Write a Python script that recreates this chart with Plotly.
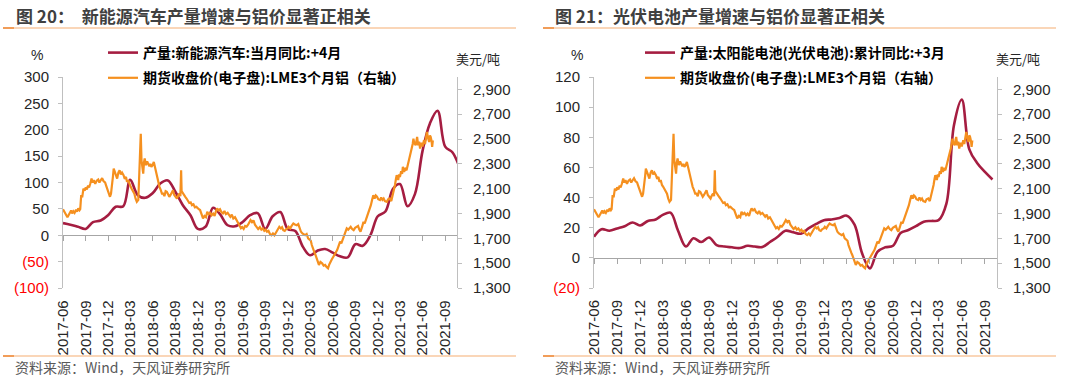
import plotly.graph_objects as go
import pandas as pd

W, H = 1080, 380

# ---------------- data ----------------
# monthly production growth, left panel (new-energy vehicles, YoY, shifted +4 months), from 2017-06
nev_start = "2017-06-01"
nev_yoy = [23, 20, 16, 12, 25, 28, 38,
           54, 55, 105, 76, 71, 80, 98, 104, 82, 57, 38, 12,
           16, 52, 40, 19, 17, 25, 38, 42, 12, 36, 44, 12,
           8, -22, -38, -29, -26, -33, -40, -42, -17, -20, 0, 36,
           45, 88, 97, 55, 78, 160, 212, 236, 168, 157, 125]

# monthly production growth, right panel (solar cells, cumulative YoY, shifted +3 months), from 2017-06
pv_start = "2017-06-01"
pv_yoy = [14, 19, 18, 19.5, 21, 23.5, 21.5,
          24.5, 25.5, 28.5, 30, 18, 7.5, 13, 10.5, 13.5, 8.5, 7.5, 7,
          6.5, 8, 7.5, 7.2, 10.5, 14, 18, 17, 16, 19.5, 22.5, 25,
          25.5, 26.5, 28, 22, 3, -7, 4, 7, 8, 16.5, 18.5, 21,
          24, 24.5, 25, 36, 88, 105, 72, 63, 57, 52]

# LME 3-month aluminium close (USD/t)
lme_dates = [
 "2017-06-01","2017-06-07","2017-06-13","2017-06-19","2017-06-23","2017-06-28",
 "2017-07-04","2017-07-08","2017-07-13","2017-07-18","2017-07-24","2017-07-28",
 "2017-08-02","2017-08-07","2017-08-10","2017-08-14","2017-08-18","2017-08-23","2017-08-28",
 "2017-09-01","2017-09-06","2017-09-11","2017-09-15","2017-09-20","2017-09-25","2017-09-29",
 "2017-10-04","2017-10-10","2017-10-16","2017-10-22","2017-10-27",
 "2017-11-02","2017-11-07","2017-11-13","2017-11-19","2017-11-24","2017-11-29",
 "2017-12-04","2017-12-09","2017-12-13","2017-12-17","2017-12-21","2017-12-24","2017-12-28",
 "2018-01-03","2018-01-07","2018-01-12","2018-01-17","2018-01-22","2018-01-27",
 "2018-02-02","2018-02-07","2018-02-12","2018-02-16","2018-02-21","2018-02-26",
 "2018-03-03","2018-03-08","2018-03-13","2018-03-18","2018-03-23","2018-03-28",
 "2018-04-03","2018-04-07","2018-04-11","2018-04-13","2018-04-16","2018-04-20","2018-04-23","2018-04-26","2018-04-29",
 "2018-05-04","2018-05-09","2018-05-13","2018-05-18","2018-05-22","2018-05-26","2018-05-31",
 "2018-06-05","2018-06-09","2018-06-14","2018-06-18","2018-06-23","2018-06-28",
 "2018-07-03","2018-07-08","2018-07-13","2018-07-18","2018-07-23","2018-07-28",
 "2018-08-02","2018-08-07","2018-08-12","2018-08-17","2018-08-22","2018-08-27",
 "2018-09-01","2018-09-07","2018-09-12","2018-09-17","2018-09-21","2018-09-24","2018-09-26","2018-10-01",
 "2018-10-06","2018-10-11","2018-10-16","2018-10-22","2018-10-27",
 "2018-11-02","2018-11-07","2018-11-13","2018-11-19","2018-11-25","2018-11-30",
 "2018-12-05","2018-12-10","2018-12-16","2018-12-22","2018-12-28",
 "2019-01-03","2019-01-08","2019-01-14","2019-01-20","2019-01-26",
 "2019-02-01","2019-02-07","2019-02-12","2019-02-17","2019-02-23",
 "2019-03-01","2019-03-07","2019-03-13","2019-03-19","2019-03-25",
 "2019-04-01","2019-04-07","2019-04-12","2019-04-18","2019-04-24",
 "2019-05-01","2019-05-07","2019-05-13","2019-05-19","2019-05-25","2019-05-30",
 "2019-06-05","2019-06-11","2019-06-17","2019-06-23","2019-06-28",
 "2019-07-03","2019-07-09","2019-07-15","2019-07-21","2019-07-28",
 "2019-08-03","2019-08-10","2019-08-16","2019-08-22","2019-08-28",
 "2019-09-03","2019-09-08","2019-09-14","2019-09-20","2019-09-26",
 "2019-10-02","2019-10-08","2019-10-16","2019-10-22","2019-10-28",
 "2019-11-03","2019-11-08","2019-11-13","2019-11-19","2019-11-25",
 "2019-12-01","2019-12-05","2019-12-11","2019-12-17","2019-12-24","2019-12-30",
 "2020-01-07","2020-01-13","2020-01-19","2020-01-24","2020-01-30",
 "2020-02-05","2020-02-10","2020-02-16","2020-02-22","2020-02-28",
 "2020-03-04","2020-03-08","2020-03-14","2020-03-19","2020-03-23","2020-03-28",
 "2020-04-02","2020-04-06","2020-04-12","2020-04-19","2020-04-25",
 "2020-05-01","2020-05-07","2020-05-13","2020-05-18","2020-05-22","2020-05-28",
 "2020-06-03","2020-06-08","2020-06-13","2020-06-19","2020-06-25",
 "2020-07-01","2020-07-06","2020-07-11","2020-07-16","2020-07-22","2020-07-28",
 "2020-08-03","2020-08-08","2020-08-13","2020-08-19","2020-08-25","2020-08-31",
 "2020-09-07","2020-09-12","2020-09-17","2020-09-22","2020-09-28",
 "2020-10-04","2020-10-09","2020-10-14","2020-10-19","2020-10-25","2020-10-29",
 "2020-11-03","2020-11-08","2020-11-13","2020-11-18","2020-11-23","2020-11-28",
 "2020-12-03","2020-12-10","2020-12-15","2020-12-20","2020-12-25","2020-12-30",
 "2021-01-07","2021-01-12","2021-01-19","2021-01-25","2021-01-30",
 "2021-02-04","2021-02-09","2021-02-13","2021-02-16","2021-02-22","2021-02-26",
 "2021-03-01","2021-03-06","2021-03-10","2021-03-13","2021-03-18","2021-03-23","2021-03-28",
 "2021-04-02","2021-04-08","2021-04-13","2021-04-18","2021-04-22","2021-04-25","2021-04-28",
 "2021-05-04","2021-05-07","2021-05-10","2021-05-14","2021-05-18","2021-05-22","2021-05-27",
 "2021-06-01","2021-06-07","2021-06-11","2021-06-15","2021-06-19","2021-06-23","2021-06-28",
 "2021-07-01","2021-07-04","2021-07-08","2021-07-10","2021-07-13"]
lme_price = [
 1935,1912,1890,1870,1884,1902,
 1925,1900,1918,1905,1930,1915,
 1941,1926,1935,2048,2030,2101,2085,
 2110,2095,2125,2110,2142,2182,2150,
 2168,2140,2165,2174,2150,
 2170,2185,2160,2150,2120,2090,
 2075,2035,2060,2115,2200,2262,2236,
 2215,2182,2230,2249,2215,2230,
 2209,2180,2195,2155,2170,2130,
 2115,2095,2075,2060,2020,1995,
 2010,2222,2380,2543,2329,2240,2222,2310,2343,
 2290,2320,2302,2280,2300,2276,2290,
 2316,2280,2230,2195,2160,2115,
 2090,2060,2061,2040,2080,2075,
 2055,2035,2050,2070,2088,2050,
 2040,2021,2045,2061,2040,2249,2080,2061,
 2050,2035,2021,2000,1985,
 1990,1968,1975,1950,1954,1940,
 1935,1928,1900,1861,1880,
 1870,1914,1895,1905,1886,
 1900,1880,1915,1941,1925,
 1935,1910,1901,1920,1895,
 1905,1885,1874,1890,1860,
 1870,1848,1835,1815,1781,1790,
 1775,1800,1795,1810,1830,
 1847,1830,1845,1810,1785,
 1775,1790,1770,1780,1760,
 1770,1753,1760,1735,1726,
 1740,1725,1753,1770,1793,
 1780,1790,1766,1760,1775,
 1780,1793,1780,1800,1820,1812,
 1806,1815,1780,1753,1740,
 1730,1726,1735,1700,1690,
 1680,1646,1620,1585,1566,1540,
 1505,1486,1510,1499,1480,
 1486,1470,1459,1490,1512,1530,
 1550,1566,1580,1606,1640,
 1673,1660,1690,1713,1740,1780,
 1770,1785,1793,1775,1766,1785,
 1793,1800,1770,1753,1790,
 1833,1820,1850,1874,1900,1935,
 1967,2010,2048,2020,2045,2035,
 2015,2008,2030,2010,2021,2000,
 1994,2015,2021,2000,2040,
 2075,2130,2180,2209,2170,2215,
 2195,2240,2220,2276,2235,2260,2249,
 2290,2320,2370,2420,2460,2503,2470,
 2450,2490,2517,2450,2480,2423,2470,
 2440,2490,2460,2520,2557,2510,2476,
 2530,2517,2480,2437,2490]

left_ticks = [300, 250, 200, 150, 100, 50, 0, -50, -100]
right_ticks_pct = [120, 100, 80, 60, 40, 20, 0, -20]

nev_name = "产量:新能源汽车:当月同比:+4月"
pv_name = "产量:太阳能电池(光伏电池):累计同比:+3月"
lme_name = "期货收盘价(电子盘):LME3个月铝（右轴）"
title_left = "图 20：  新能源汽车产量增速与铝价显著正相关"
title_right = "图 21：光伏电池产量增速与铝价显著正相关"
source_text = "资料来源：Wind，天风证券研究所"

# ---------------- styling ----------------
RED = "#A51D41"
ORANGE = "#F5901F"
FONT = "Liberation Sans, Arial, Noto Sans CJK SC, sans-serif"
CJK = "Noto Sans CJK SC, Liberation Sans, sans-serif"
TICKC = "#262626"
AXC = "#BFBFBF"
ZEROC = "#A6A6A6"

nev_x = pd.date_range(nev_start, periods=len(nev_yoy), freq="MS")
pv_x = pd.date_range(pv_start, periods=len(pv_yoy), freq="MS")

def px_x(p): return p / W
def px_y(p): return 1 - p / H

ydom = [px_y(288), px_y(77)]
xdom_l = [px_x(63), px_x(457)]
xdom_r = [px_x(594), px_x(997)]
xrange_ = ["2017-06-01", "2021-10-19"]
lrange = [-100, 300]
rrange_pct = [-20, 120]
prange = [1300, 3000]

def zero_pos(r):
    return ydom[0] + (0 - r[0]) / (r[1] - r[0]) * (ydom[1] - ydom[0])

def neg_lbl(v):
    if v < 0:
        return f"<span style='color:#FF0000'>({abs(v)})</span>"
    return str(v)

fig = go.Figure()

fig.add_trace(go.Scatter(x=nev_x, y=nev_yoy, name=nev_name, mode="lines",
                         line=dict(color=RED, width=2.6, shape="spline", smoothing=1.0),
                         xaxis="x", yaxis="y", legend="legend", legendgroup="a"))
fig.add_trace(go.Scatter(x=lme_dates, y=lme_price, name=lme_name, mode="lines",
                         line=dict(color=ORANGE, width=2.2),
                         xaxis="x", yaxis="y2", legend="legend", legendgroup="b"))
fig.add_trace(go.Scatter(x=pv_x, y=pv_yoy, name=pv_name, mode="lines",
                         line=dict(color=RED, width=2.6, shape="spline", smoothing=1.0),
                         xaxis="x2", yaxis="y3", legend="legend2", legendgroup="c"))
fig.add_trace(go.Scatter(x=lme_dates, y=lme_price, name=lme_name, mode="lines",
                         line=dict(color=ORANGE, width=2.2),
                         xaxis="x2", yaxis="y4", legend="legend2", legendgroup="d"))

xcommon = dict(type="date", range=xrange_, tick0="2017-06-01", dtick="M3",
               tickformat="%Y-%m", tickangle=-90, showgrid=False, zeroline=False,
               showline=True, linecolor=ZEROC, linewidth=1.2, ticks="outside",
               ticklen=5, tickcolor=ZEROC, tickfont=dict(family=FONT, size=15, color=TICKC))
ycommon = dict(showgrid=False, zeroline=False, showline=True, linecolor=AXC, linewidth=1,
               ticks="outside", ticklen=4, tickcolor=AXC,
               tickfont=dict(family=FONT, size=15, color=TICKC), domain=ydom)

fig.update_layout(
    width=W, height=H, margin=dict(l=0, r=0, t=0, b=0, pad=0, autoexpand=False),
    paper_bgcolor="white", plot_bgcolor="white",
    xaxis=dict(**xcommon, domain=xdom_l, anchor="free", position=zero_pos(lrange),
               ticklabelstandoff=53),
    yaxis=dict(**ycommon, range=lrange, tickvals=left_ticks,
               ticktext=[neg_lbl(v) for v in left_ticks], anchor="x", ticklabelstandoff=6),
    yaxis2=dict(**ycommon, range=prange, tick0=1300, dtick=200, tickformat=",d",
                overlaying="y", side="right", anchor="x", ticklabelstandoff=8),
    xaxis2=dict(**xcommon, domain=xdom_r, anchor="free", position=zero_pos(rrange_pct),
                ticklabelstandoff=30),
    yaxis3=dict(**ycommon, range=rrange_pct, tickvals=right_ticks_pct,
                ticktext=[neg_lbl(v) for v in right_ticks_pct], anchor="x2", ticklabelstandoff=6),
    yaxis4=dict(**ycommon, range=prange, tick0=1300, dtick=200, tickformat=",d",
                overlaying="y3", side="right", anchor="x2", ticklabelstandoff=8),
    legend=dict(x=px_x(103), y=px_y(37), xanchor="left", yanchor="top",
                bgcolor="rgba(0,0,0,0)", borderwidth=0, traceorder="grouped",
                tracegroupgap=4,
                font=dict(family=CJK, size=14, color="#000000", weight="bold")),
    legend2=dict(x=px_x(640), y=px_y(37), xanchor="left", yanchor="top",
                 bgcolor="rgba(0,0,0,0)", borderwidth=0, traceorder="grouped",
                 tracegroupgap=4,
                 font=dict(family=CJK, size=14, color="#000000", weight="bold")),
)

ann = []
def text(x, y, s, size, color, bold=False, xanchor="left", family=CJK):
    ann.append(dict(x=px_x(x), y=px_y(y), xref="paper", yref="paper", text=s,
                    showarrow=False, xanchor=xanchor, yanchor="middle",
                    font=dict(family=family, size=size, color=color,
                              weight="bold" if bold else "normal")))

text(14, 15, title_left, 17, "#404040", bold=True)
text(553, 15, title_right, 17, "#404040", bold=True)
for ox in (0, 540):
    text(37 + ox, 55, "%", 14, TICKC, xanchor="center", family=FONT)
    text(478 + ox, 58, "美元/吨", 13, TICKC, xanchor="center")
    text(13 + ox, 367, source_text, 14, "#595959")
fig.update_layout(annotations=ann)

shapes = []
for ox in (0, 540):
    for yy in (28, 356):
        shapes.append(dict(type="line", xref="paper", yref="paper",
                           x0=px_x(3 + ox), x1=px_x(516 + ox), y0=px_y(yy), y1=px_y(yy),
                           line=dict(color="#F8C9A0", width=1.5)))
        shapes.append(dict(type="line", xref="paper", yref="paper",
                           x0=px_x(3 + ox), x1=px_x(14 + ox), y0=px_y(yy), y1=px_y(yy),
                           line=dict(color="#EE8A3A", width=1.5)))
fig.update_layout(shapes=shapes)

fig.write_html("out.html", config={"displayModeBar": False},
               post_script="document.body.style.margin='0';")
